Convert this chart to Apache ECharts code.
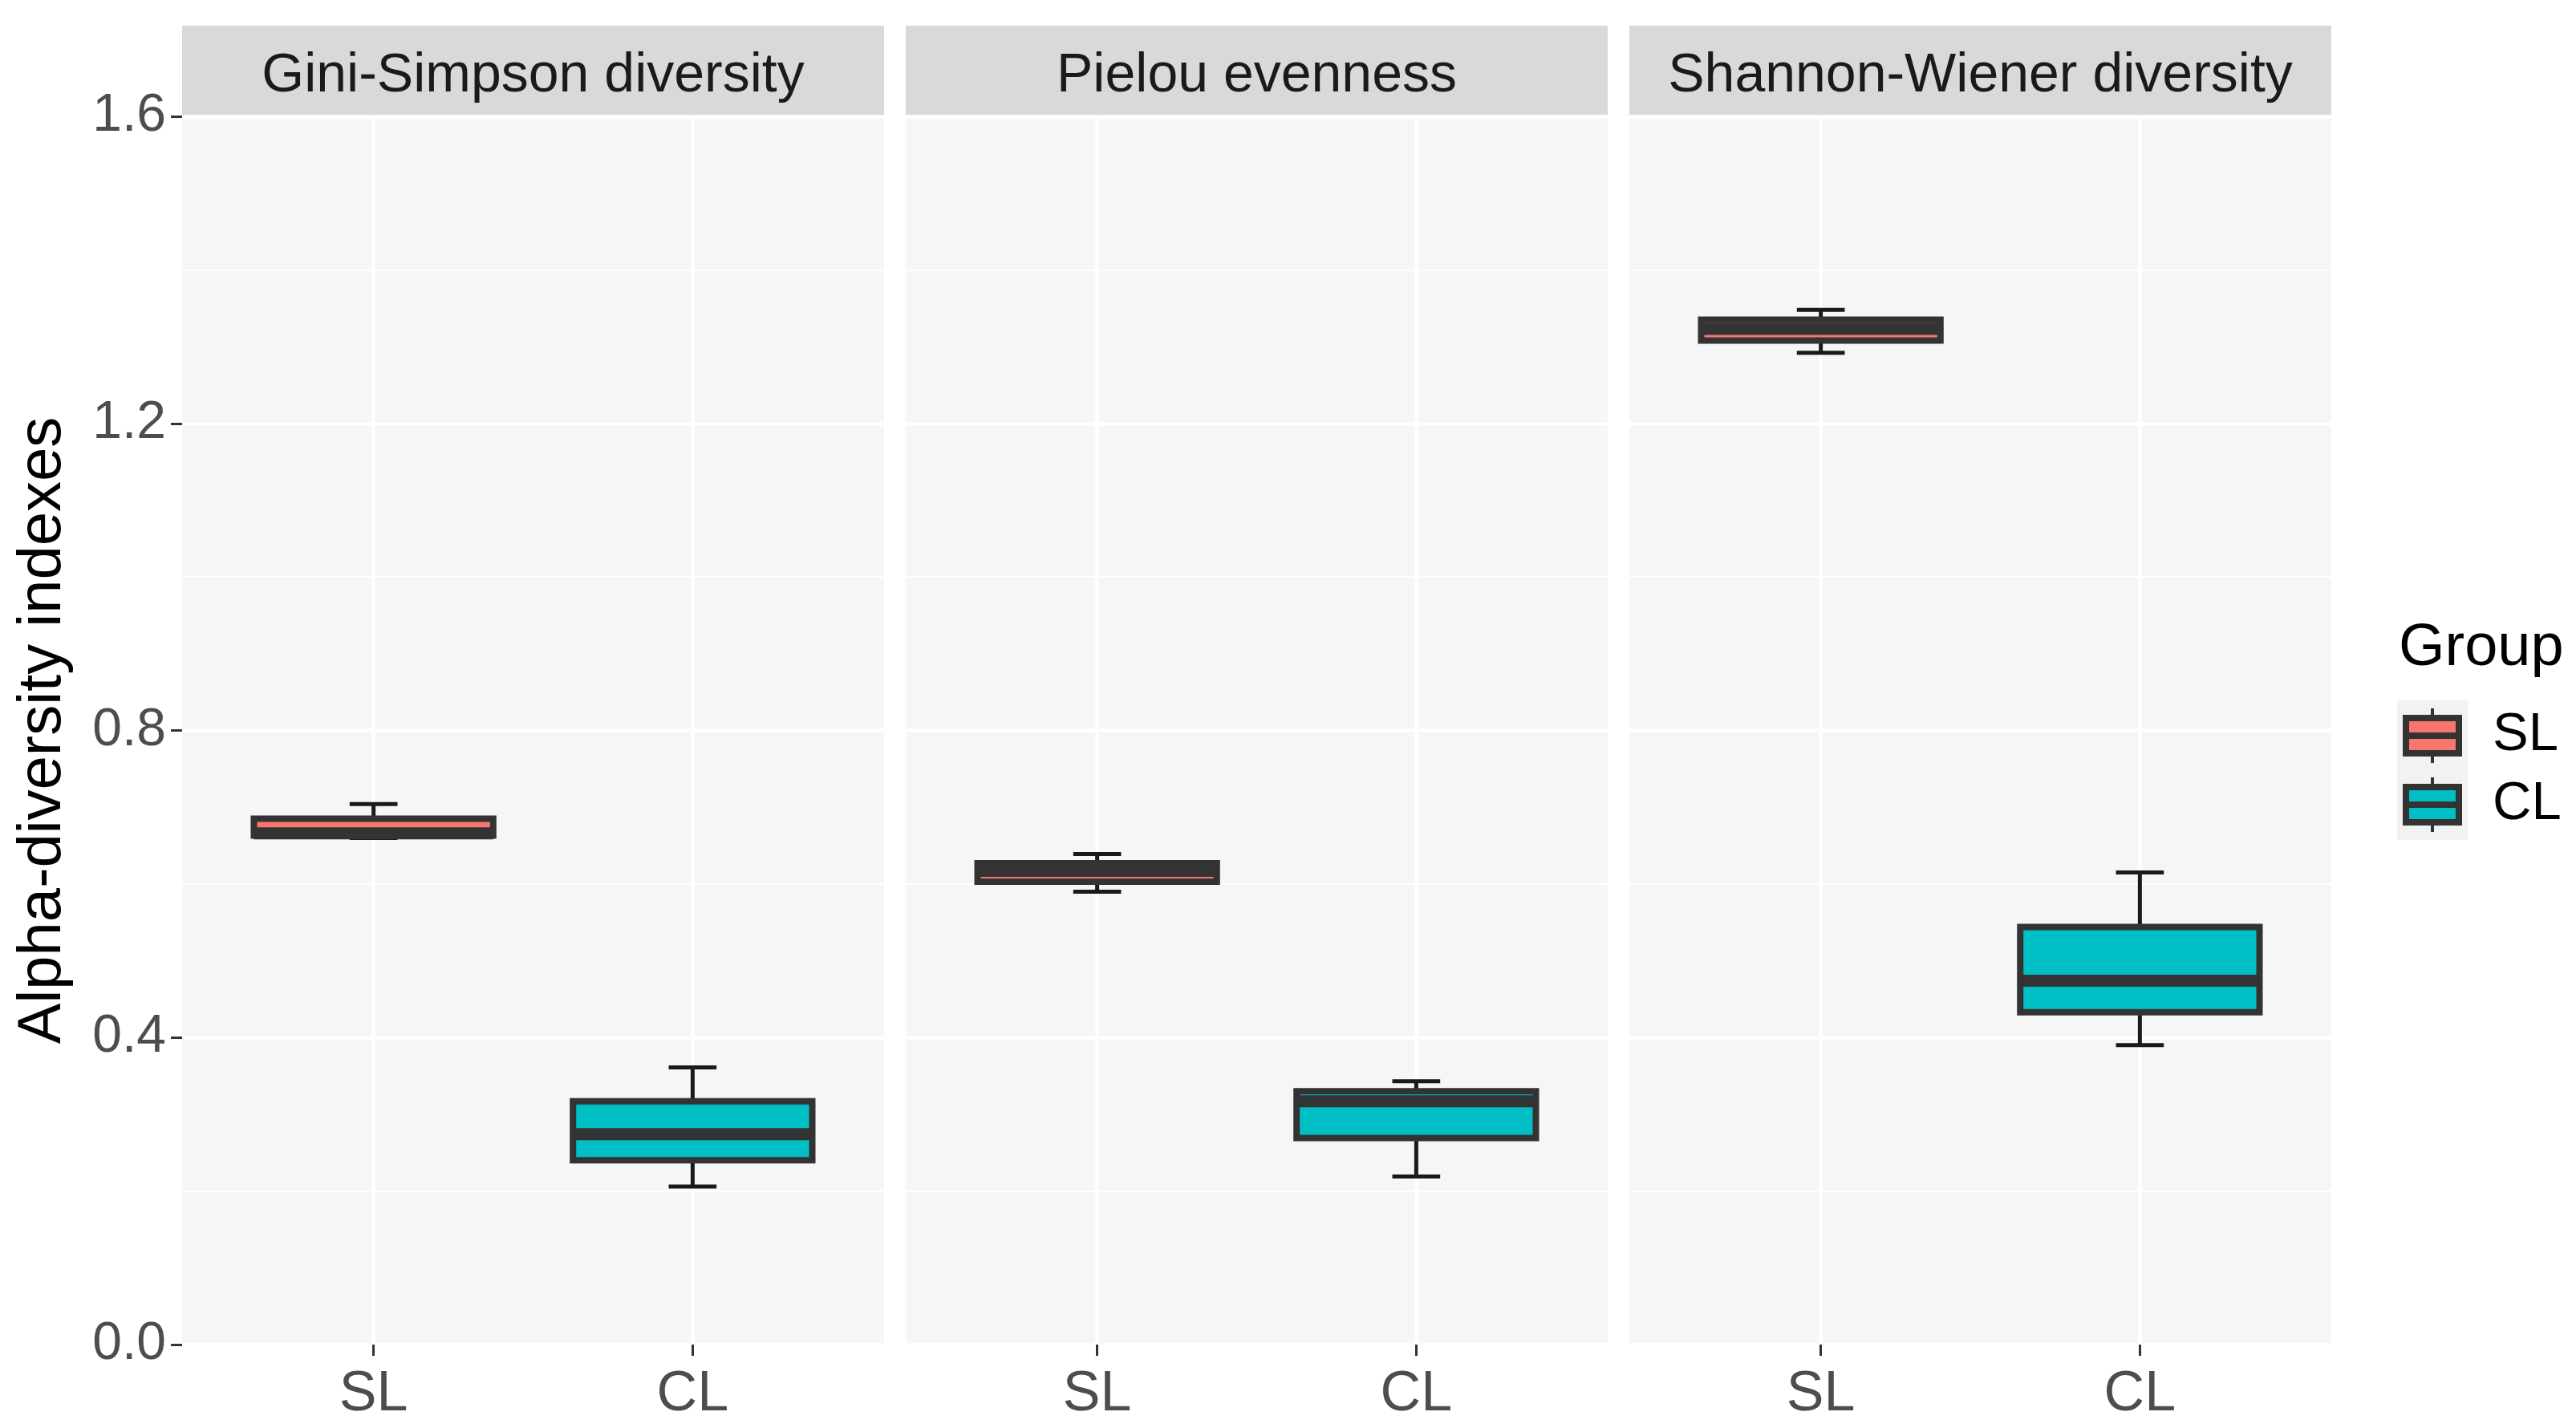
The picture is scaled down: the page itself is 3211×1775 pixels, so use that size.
<!DOCTYPE html>
<html>
<head>
<meta charset="utf-8">
<script src="https://cdn.jsdelivr.net/npm/echarts@6/dist/echarts.min.js"></script>
<style>
html,body{margin:0;padding:0;background:#fff;}
#chart{width:3211px;height:1775px;}
</style>
</head>
<body>
<div id="chart"></div>
<script>
// ---- data ----
const panels = ['Gini-Simpson diversity', 'Pielou evenness', 'Shannon-Wiener diversity'];
const groups = ['SL', 'CL'];
const groupColors = ['#F8766D', '#00BFC4'];
const yTicks = [0, 0.4, 0.8, 1.2, 1.6];
// stats: [lower whisker, Q1, median, Q3, upper whisker]
const giniSL    = [0.660, 0.663, 0.666, 0.685, 0.704];
const giniCL    = [0.206, 0.240, 0.274, 0.317, 0.361];
const pielouSL  = [0.590, 0.603, 0.617, 0.627, 0.639];
const pielouCL  = [0.219, 0.269, 0.317, 0.330, 0.343];
const shannonSL = [1.292, 1.308, 1.323, 1.335, 1.348];
const shannonCL = [0.390, 0.433, 0.474, 0.544, 0.615];
const panelData = [[giniSL, giniCL], [pielouSL, pielouCL], [shannonSL, shannonCL]];

// ---- layout ----
const FONT = '"Liberation Sans", Arial, Helvetica, sans-serif';
const PANEL_LEFT = 227, PANEL_W = 875, PANEL_GAP = 27;
const PANEL_TOP = 145, PANEL_H = 1531;
const STRIP_TOP = 32, STRIP_H = 113;
const panelLefts = panels.map((_, i) => PANEL_LEFT + i * (PANEL_W + PANEL_GAP));

function renderBox(params, api) {
  const x = api.value(0);
  const pLo = api.coord([x, api.value(1)]);
  const pQ1 = api.coord([x, api.value(2)]);
  const pMed = api.coord([x, api.value(3)]);
  const pQ3 = api.coord([x, api.value(4)]);
  const pHi = api.coord([x, api.value(5)]);
  const cx = pLo[0];
  const bw = api.size([0.75, 0])[0];
  const cw = api.size([0.15, 0])[0];
  const fill = api.visual('color');
  const wStyle = {stroke: '#1a1a1a', lineWidth: 5, lineCap: 'butt'};
  return {
    type: 'group',
    children: [
      {type: 'line', shape: {x1: cx, y1: pHi[1], x2: cx, y2: pQ3[1]}, style: wStyle},
      {type: 'line', shape: {x1: cx, y1: pQ1[1], x2: cx, y2: pLo[1]}, style: wStyle},
      {type: 'line', shape: {x1: cx - cw / 2, y1: pHi[1], x2: cx + cw / 2, y2: pHi[1]}, style: wStyle},
      {type: 'line', shape: {x1: cx - cw / 2, y1: pLo[1], x2: cx + cw / 2, y2: pLo[1]}, style: wStyle},
      {type: 'rect', shape: {x: cx - bw / 2, y: pQ3[1], width: bw, height: pQ1[1] - pQ3[1]},
        style: {fill: fill, stroke: '#333333', lineWidth: 8}},
      {type: 'line', shape: {x1: cx - bw / 2, y1: pMed[1], x2: cx + bw / 2, y2: pMed[1]},
        style: {stroke: '#333333', lineWidth: 15, lineCap: 'butt'}}
    ]
  };
}

const grids = [], xAxes = [], yAxes = [], series = [], graphics = [];
panels.forEach((name, p) => {
  grids.push({left: panelLefts[p], top: PANEL_TOP, width: PANEL_W, height: PANEL_H,
    show: true, backgroundColor: '#F6F6F6', borderWidth: 0, containLabel: false});
  xAxes.push({
    type: 'value', gridIndex: p, min: 0.4, max: 2.6,
    axisLine: {show: false},
    axisTick: {show: true, customValues: [1, 2], length: 14, lineStyle: {color: '#333', width: 3}},
    axisLabel: {show: true, customValues: [1, 2], formatter: v => groups[Math.round(v) - 1] || '',
      fontSize: 70, color: '#4D4D4D', margin: 28, fontFamily: FONT},
    splitLine: {show: true, lineStyle: {color: '#ffffff', width: 4.5}}
  });
  yAxes.push({
    type: 'value', gridIndex: p, min: yTicks[0], max: yTicks[yTicks.length - 1], interval: 0.4,
    axisLine: {show: false},
    axisTick: {show: p === 0, length: 14, lineStyle: {color: '#333', width: 3}},
    axisLabel: {show: p === 0, fontSize: 66, color: '#4D4D4D', margin: 20, fontFamily: FONT,
      formatter: v => v.toFixed(1)},
    splitLine: {show: true, lineStyle: {color: '#ffffff', width: 4.5}},
    minorTick: {show: false, splitNumber: 2},
    minorSplitLine: {show: true, lineStyle: {color: '#ffffff', width: 2.2}},
    name: p === 0 ? 'Alpha-diversity indexes' : '',
    nameLocation: 'middle', nameGap: 135,
    nameTextStyle: {fontSize: 76, color: '#000', fontFamily: FONT}
  });
  groups.forEach((g, gi) => {
    series.push({
      type: 'custom', name: g, xAxisIndex: p, yAxisIndex: p,
      itemStyle: {color: groupColors[gi]},
      encode: {x: 0, y: [1, 2, 3, 4, 5]},
      data: [[gi + 1].concat(panelData[p][gi])],
      renderItem: renderBox, silent: true
    });
  });
  graphics.push({type: 'rect', shape: {x: panelLefts[p], y: STRIP_TOP, width: PANEL_W, height: STRIP_H},
    style: {fill: '#D9D9D9'}, silent: true});
  graphics.push({type: 'text', x: panelLefts[p] + PANEL_W / 2, y: STRIP_TOP + STRIP_H / 2 + 7,
    style: {text: name, fontSize: 68, fontFamily: FONT, fill: '#1A1A1A', align: 'center', verticalAlign: 'middle'},
    silent: true});
});

const ICON_FILL = 'path://M35 0H39V8H35Z M0 8H74V60H0Z M35 60H39V68H35Z';
const ICON_FRAME = 'path://M35 0H39V8H35Z M0 8H74V60H0Z M8 16V30H66V16Z M8 38V52H66V38Z M35 60H39V68H35Z';

const option = {
  animation: false,
  backgroundColor: '#ffffff',
  title: {text: 'Group', left: 2990, top: 772, padding: 0,
    textStyle: {fontSize: 74, fontWeight: 'normal', color: '#000', fontFamily: FONT}},
  grid: grids, xAxis: xAxes, yAxis: yAxes, series: series,
  legend: [
    {data: groups, orient: 'vertical', left: 2988, top: 873, padding: [10, 7],
      itemWidth: 74, itemHeight: 68, itemGap: 18, icon: ICON_FILL, selectedMode: false,
      formatter: () => '', backgroundColor: '#F2F2F2', z: 4,
      textStyle: {fontSize: 10, color: 'transparent'}},
    {data: groups, orient: 'vertical', left: 2988, top: 873, padding: [10, 7],
      itemWidth: 74, itemHeight: 68, itemGap: 18, icon: ICON_FRAME, selectedMode: false, z: 5,
      itemStyle: {color: '#333333', borderWidth: 0},
      textStyle: {fontSize: 67, color: '#000', fontFamily: FONT, padding: [0, 0, 0, 33]}}
  ],
  graphic: graphics
};

const chart = echarts.init(document.getElementById('chart'), null, {renderer: 'canvas'});
chart.setOption(option);
</script>
</body>
</html>
